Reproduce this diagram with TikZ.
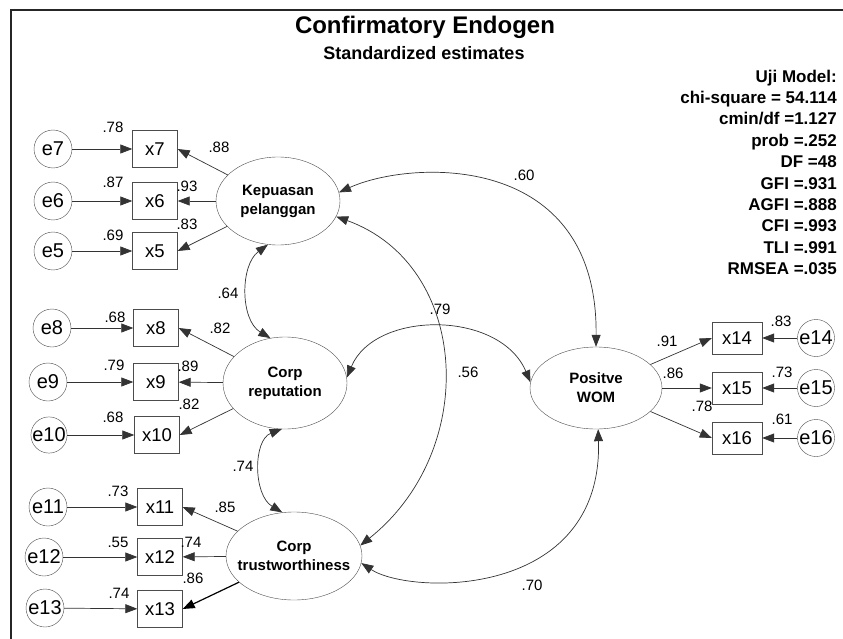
\documentclass[tikz,border=0pt]{standalone}
\usepackage{fontspec}
\setmainfont{Liberation Sans}
\usetikzlibrary{arrows.meta,shapes.geometric}
\tikzset{
    latent/.style={ellipse,draw=black!70,inner xsep=-20pt,inner ysep=-10pt,align=center,font=\fontsize{15}{19}\selectfont\bfseries},
    item/.style={rectangle,draw=black!70,minimum width=45pt,minimum height=37pt,inner sep=0pt,font=\fontsize{18.5}{20}\selectfont},
    err/.style={circle,draw=black!70,minimum size=38pt,inner sep=0pt,font=\fontsize{20}{22}\selectfont},
    coef/.style={inner sep=0pt,font=\fontsize{15}{17}\selectfont},
    edge/.style={-{Triangle[length=12pt,width=9pt]},draw=black!80,line width=0.7pt},
    cov/.style={{Triangle[length=12pt,width=9pt]}-{Triangle[length=12pt,width=9pt]},draw=black!80,line width=0.7pt}
}

\begin{document}
\begin{tikzpicture} [x=1pt,y=-1pt]
\useasboundingbox (0,0) rectangle (843,639);
\draw[line width=2.5pt,black!85] (11,639) -- (11,10) -- (843,10);

\node[anchor=base,font=\fontsize{24}{26}\selectfont\bfseries] (title) at (425,33.6) {Confirmatory Endogen};
\node[anchor=base,font=\fontsize{18}{20}\selectfont\bfseries] (sub) at (424,59.4) {Standardized estimates};
\node[anchor=north east,inner sep=0pt,align=right,font=\fontsize{17}{21.4}\selectfont\bfseries] (fit) at (837,69.5)
  {Uji Model:\\chi-square = 54.114\\cmin/df =1.127\\prob =.252\\DF =48\\GFI =.931\\AGFI =.888\\CFI =.993\\TLI =.991\\RMSEA =.035};

% latent variables
\node[latent,minimum width=124pt,minimum height=88pt] (kp) at (278,201) {Kepuasan\\pelanggan};
\node[latent,minimum width=124pt,minimum height=92pt] (cr) at (285,383) {Corp\\reputation};
\node[latent,minimum width=136pt,minimum height=88pt] (ct) at (294,556) {Corp\\trustworthiness};
\node[latent,minimum width=132pt,minimum height=82pt] (wom) at (596,388) {Positve\\WOM};

% indicators
\node[item] (x7) at (155,149) {x7};
\node[item] (x6) at (155,201) {x6};
\node[item] (x5) at (155,251) {x5};
\node[item] (x8) at (156,328) {x8};
\node[item] (x9) at (156,382) {x9};
\node[item] (x10) at (157,435) {x10};
\node[item] (x11) at (160,507) {x11};
\node[item] (x12) at (160,557) {x12};
\node[item] (x13) at (160,609) {x13};
\node[item,minimum width=50pt,minimum height=32pt] (x14) at (737,338) {x14};
\node[item,minimum width=50pt,minimum height=32pt] (x15) at (737,388) {x15};
\node[item,minimum width=50pt,minimum height=32pt] (x16) at (737,438) {x16};

% errors
\node[err] (e7) at (53,149) {e7};
\node[err] (e6) at (53,201) {e6};
\node[err] (e5) at (53,251) {e5};
\node[err] (e8) at (52,328) {e8};
\node[err] (e9) at (48,382) {e9};
\node[err,minimum size=36pt] (e10) at (49,435) {e10};
\node[err] (e11) at (48,507) {e11};
\node[err] (e12) at (44,557) {e12};
\node[err] (e13) at (45,608) {e13};
\node[err,minimum size=37pt] (e14) at (816,338) {e14};
\node[err,minimum size=37pt] (e15) at (816,388) {e15};
\node[err,minimum size=37pt] (e16) at (816,438) {e16};

\draw[edge] (kp) -- (x7.east);
\draw[edge] (kp) -- (x6);
\draw[edge] (kp) -- (x5.east);
\draw[edge] (cr) -- (x8.east);
\draw[edge] (cr) -- (x9);
\draw[edge] (cr) -- (x10.east);
\draw[edge] (ct) -- (x11.east);
\draw[edge] (ct) -- (x12);
\draw[edge,line width=1.2pt,draw=black] (ct) -- (x13.east);
\draw[edge] (wom) -- (x14.west);
\draw[edge] (wom) -- (x15);
\draw[edge] (wom) -- (x16.west);

\draw[edge] (e7) -- (x7);
\draw[edge] (e6) -- (x6);
\draw[edge] (e5) -- (x5);
\draw[edge] (e8) -- (x8);
\draw[edge] (e9) -- (x9);
\draw[edge] (e10) -- (x10);
\draw[edge] (e11) -- (x11);
\draw[edge] (e12) -- (x12);
\draw[edge] (e13) -- (x13);
\draw[edge] (e14) -- (x14);
\draw[edge] (e15) -- (x15);
\draw[edge] (e16) -- (x16);

% covariances
\draw[cov] (kp.8) .. controls (410,160) and (598,150) .. (wom.north);
\draw[cov] (kp.-15) .. controls (470,265) and (480,450) .. (ct.9);
\draw[cov] (cr.5) .. controls (375,310) and (500,310) .. (wom.175);
\draw[cov] (kp.-103) .. controls (240,265) and (240,320) .. (cr.108);
\draw[cov] (cr.-94) .. controls (253,440) and (253,495) .. (ct.105);
\draw[cov] (ct.-6) .. controls (410,595) and (603,600) .. (wom.-87);

% estimates
\node[coef] (l1) at (113,127) {.78};
\node[coef] (l2) at (219,147) {.88};
\node[coef] (l3) at (113,182) {.87};
\node[coef] (l4) at (187,186) {.93};
\node[coef] (l5) at (113,235) {.69};
\node[coef] (l6) at (187,224) {.83};
\node[coef] (l7) at (228,293) {.64};
\node[coef] (l8) at (115,317) {.68};
\node[coef] (l9) at (220,328) {.82};
\node[coef] (l10) at (114,365) {.79};
\node[coef] (l11) at (188,366) {.89};
\node[coef] (l12) at (189,404) {.82};
\node[coef] (l13) at (113,417) {.68};
\node[coef] (l14) at (243,466) {.74};
\node[coef] (l15) at (118,491) {.73};
\node[coef] (l16) at (225,507) {.85};
\node[coef] (l17) at (118,542) {.55};
\node[coef] (l18) at (191,542) {.74};
\node[coef] (l19) at (193,578) {.86};
\node[coef] (l20) at (119,593) {.74};
\node[coef] (l21) at (781,321) {.83};
\node[coef] (l22) at (667,341) {.91};
\node[coef] (l23) at (673,373) {.86};
\node[coef] (l24) at (782,372) {.73};
\node[coef] (l25) at (702,406) {.78};
\node[coef] (l26) at (782,419) {.61};
\node[coef] (l27) at (524,175) {.60};
\node[coef] (l28) at (440,309) {.79};
\node[coef] (l29) at (468,372) {.56};
\node[coef] (l30) at (532,585) {.70};

\end{tikzpicture}
\end{document}
